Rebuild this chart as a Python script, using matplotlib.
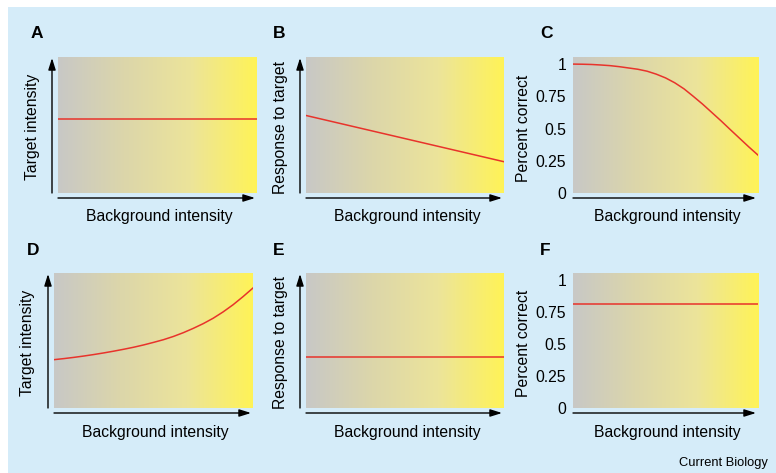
import numpy as np
import matplotlib
matplotlib.use("Agg")
import matplotlib.pyplot as plt
from matplotlib.colors import LinearSegmentedColormap
from matplotlib.patches import Rectangle

plt.rcParams['font.family'] = ['Liberation Sans', 'DejaVu Sans']

W, H = 776, 473

# curves (x = background intensity, 0..1)
bg_x = [0, 0.05, 0.1, 0.15, 0.2, 0.25, 0.3, 0.35, 0.4, 0.45, 0.5,
        0.55, 0.6, 0.65, 0.7, 0.75, 0.8, 0.85, 0.9, 0.95, 1.0]
a_target = [0.544] * 21
b_response = [0.57, 0.553, 0.536, 0.519, 0.502, 0.485, 0.468, 0.451, 0.434,
              0.417, 0.40, 0.383, 0.366, 0.349, 0.332, 0.315, 0.298, 0.281,
              0.264, 0.247, 0.23]
c_correct = [1.0, 0.999, 0.997, 0.993, 0.988, 0.98, 0.97, 0.96, 0.945, 0.922,
             0.893, 0.855, 0.808, 0.75, 0.69, 0.625, 0.56, 0.492, 0.425,
             0.358, 0.294]
d_target = [0.358, 0.366, 0.375, 0.385, 0.396, 0.408, 0.421, 0.435, 0.45,
            0.467, 0.486, 0.506, 0.53, 0.558, 0.59, 0.625, 0.665, 0.712,
            0.765, 0.825, 0.889]
e_response = [0.38] * 21
f_correct = [0.81] * 21

pct_ticks = [0, 0.25, 0.5, 0.75, 1]
pct_labels = ['0', '0.25', '0.5', '0.75', '1']

panels = [
    # letter, left, top, right, bottom (pixels), ylabel, y data, percent axis
    ('A', 58, 57, 257, 193, 'Target intensity', a_target, False),
    ('B', 306, 57, 504, 193, 'Response to target', b_response, False),
    ('C', 573, 57, 758, 193, 'Percent correct', c_correct, True),
    ('D', 54, 273, 253, 408, 'Target intensity', d_target, False),
    ('E', 306, 273, 504, 408, 'Response to target', e_response, False),
    ('F', 573, 273, 758, 408, 'Percent correct', f_correct, True),
]

cmap = LinearSegmentedColormap.from_list(
    'bg', ['#c8c8c6', '#dcd6aa', '#ece49a', '#fff357'])
grad = np.linspace(0, 1, 256).reshape(1, -1)

fig = plt.figure(figsize=(W / 100, H / 100), dpi=100)
fig.patch.set_facecolor('white')
fig.patches.append(Rectangle((8 / W, 0), 1 - 8 / W, (H - 7) / H,
                             transform=fig.transFigure, facecolor='#d5ecf9',
                             edgecolor='none', zorder=-10))


def fx(px):
    return px / W


def fy(py):
    return 1 - py / H


for letter, l, t, r, b, ylabel, ydata, pct in panels:
    ax = fig.add_axes([fx(l), fy(b), (r - l) / W, (b - t) / H])
    ymax = 1.055 if pct else 1.0
    ax.imshow(grad, cmap=cmap, aspect='auto', extent=(0, 1, 0, ymax),
              zorder=0)
    ax.plot(bg_x, ydata, color='#e8332b', lw=1.1, zorder=2)
    ax.set_xlim(0, 1)
    ax.set_ylim(0, ymax)
    for s in ax.spines.values():
        s.set_visible(False)
    ax.set_xticks([])
    w, h = r - l, b - t
    # x arrow
    ax.annotate('', xy=((w - 2) / w, -5 / h), xytext=(0, -5 / h),
                xycoords='axes fraction',
                arrowprops=dict(arrowstyle='-|>,head_length=0.7,head_width=0.22',
                                color='black', lw=1.0, shrinkA=0, shrinkB=0))
    if pct:
        ax.set_yticks(pct_ticks)
        ax.set_yticklabels(pct_labels)
        ax.tick_params(axis='y', length=0, pad=5, labelsize=11.3)
        fig.text(fx(l - 50), fy((t + b) / 2 + 3), ylabel, rotation=90,
                 ha='center', va='center', fontsize=11.3)
    else:
        ax.set_yticks([])
        ax.annotate('', xy=(-6 / w, 1 - 1 / h), xytext=(-6 / w, 0),
                    xycoords='axes fraction',
                    arrowprops=dict(arrowstyle='-|>,head_length=0.7,head_width=0.22',
                                    color='black', lw=1.0, shrinkA=0, shrinkB=0))
        fig.text(fx(l - 26), fy((t + b) / 2 + 2), ylabel, rotation=90,
                 ha='center', va='center', fontsize=11.3)
    fig.text(fx((l + r) / 2 + 2), fy(b + 24), 'Background intensity',
             ha='center', va='center', fontsize=11.3)
    fig.text(fx(l - 27 if letter in 'AD' else l - 33), fy(t - 23), letter,
             ha='left', va='center', fontsize=12.5, fontweight='bold')

fig.text(fx(768), fy(463), 'Current Biology', ha='right', va='center',
         fontsize=9.3)

fig.savefig('out.png', dpi=100, facecolor=fig.get_facecolor())
